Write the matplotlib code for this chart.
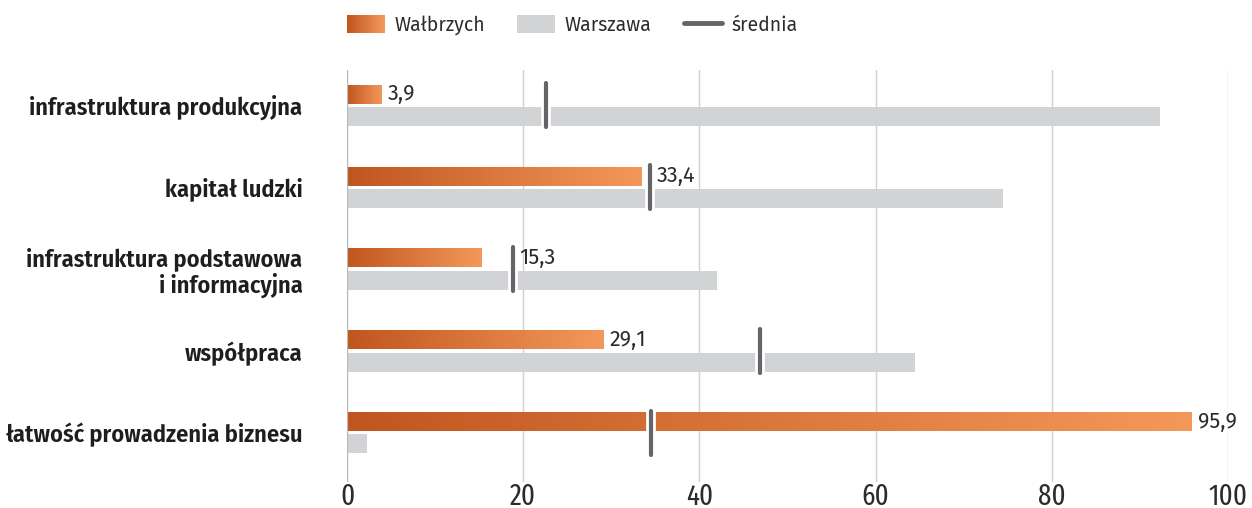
import numpy as np
import matplotlib.pyplot as plt
import matplotlib.patheffects as pe
from matplotlib.colors import LinearSegmentedColormap
from matplotlib.legend_handler import HandlerBase
from matplotlib.patches import Rectangle
from matplotlib.lines import Line2D

plt.rcParams['font.family'] = ['Fira Sans', 'DejaVu Sans']

categories = ['infrastruktura produkcyjna', 'kapitał ludzki',
              'infrastruktura podstawowa\ni informacyjna', 'współpraca',
              'łatwość prowadzenia biznesu']
walbrzych = [3.9, 33.4, 15.3, 29.1, 95.9]
warszawa = [92.3, 74.5, 42.0, 64.5, 2.3]
srednia = [22.6, 34.4, 18.8, 46.9, 34.5]
xticks = [0, 20, 40, 60, 80, 100]

c_dark = '#c0561f'
c_light = '#f4985a'
c_grey = '#d2d3d5'
c_mean = '#646568'
c_text = '#2b2b2b'
grad = LinearSegmentedColormap.from_list('wal', [c_dark, c_light])

fig = plt.figure(figsize=(12.52, 5.08), dpi=100)
ax = fig.add_axes([347 / 1252, 26 / 508, 881 / 1252, 412 / 508])

y = np.arange(len(categories))
h = 0.232
off = 0.135

bars = ax.barh(y - off, walbrzych, height=h, color='none', zorder=3)
ax.barh(y + off, warszawa, height=h, color=c_grey, zorder=3)

# gradient fill for each Wałbrzych bar
g = np.linspace(0, 1, 256).reshape(1, -1)
for b in bars:
    x0, y0 = b.get_x(), b.get_y()
    w, hh = b.get_width(), b.get_height()
    im = ax.imshow(g, cmap=grad, aspect='auto', extent=[x0, x0 + w, y0, y0 + hh],
                   origin='lower', zorder=3)
    im.set_clip_path(b)

# mean markers
for i, m in enumerate(srednia):
    ax.plot([m, m], [i - 0.27, i + 0.27], color=c_mean, lw=3,
            solid_capstyle='round', zorder=5,
            path_effects=[pe.Stroke(linewidth=7, foreground='white'), pe.Normal()])

# value labels (pushed past the mean marker if it sits just after the bar)
for i, v in enumerate(walbrzych):
    xpos = srednia[i] if 0 < srednia[i] - v < 5 else v
    ax.annotate(f'{v:.1f}'.replace('.', ','), (xpos, i - off), xytext=(4.5, 0),
                textcoords='offset points', va='center', ha='left',
                fontsize=15.5, color=c_text, zorder=6)

ax.set_xlim(0, 100)
ax.set_ylim(4.6, -0.43)
ax.set_xticks(xticks)
ax.set_xticklabels([str(t) for t in xticks], fontsize=21, color=c_text,
                   family=['Fira Sans Extra Condensed', 'DejaVu Sans'])
ax.set_yticks(y)
ax.set_yticklabels(categories, fontsize=17.5, fontweight='semibold', color='#1e1e1e',
                   ha='right', linespacing=1.1,
                   family=['Fira Sans Condensed', 'DejaVu Sans'])
ax.tick_params(axis='both', length=0)
ax.tick_params(axis='x', pad=0)
ax.tick_params(axis='y', pad=32)
ax.grid(axis='x', color='#d0d0d0', lw=1, zorder=0)
ax.axvline(0, color='#b8b8b8', lw=1.6, zorder=4)
for s in ax.spines.values():
    s.set_visible(False)


class GradientHandler(HandlerBase):
    def create_artists(self, legend, orig, xd, yd, width, height, fontsize, trans):
        n = 40
        arts = []
        for k in range(n):
            r = Rectangle((-xd + k * width / n, -yd), width / n * 1.05, height,
                          facecolor=grad(k / (n - 1)), edgecolor='none',
                          transform=trans)
            arts.append(r)
        return arts


h_wal = Rectangle((0, 0), 1, 1)
h_war = Rectangle((0, 0), 1, 1, facecolor=c_grey, edgecolor='none')
h_sr = Line2D([], [], color=c_mean, lw=3.5, solid_capstyle='round')
leg = fig.legend([h_wal, h_war, h_sr], ['Wałbrzych', 'Warszawa', 'średnia'],
                 handler_map={h_wal: GradientHandler()},
                 loc='center left', bbox_to_anchor=(347 / 1252, 1 - 25 / 508), ncol=3,
                 frameon=False, fontsize=14, handlelength=1.95, handleheight=1.0,
                 handletextpad=0.5, columnspacing=1.65, borderpad=0, borderaxespad=0)
for t in leg.get_texts():
    t.set_color(c_text)

fig.savefig('out.png', dpi=100, facecolor='white')
